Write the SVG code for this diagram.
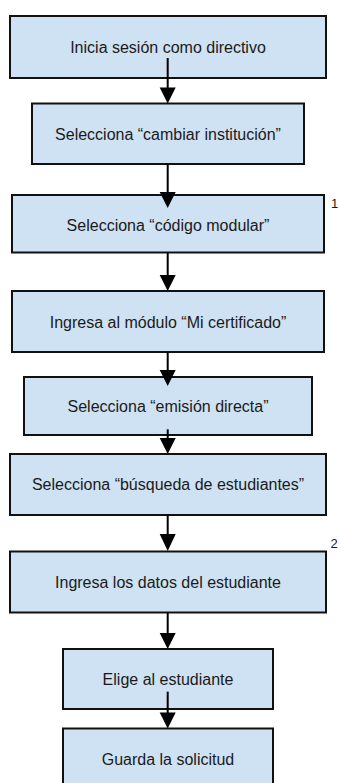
<svg xmlns="http://www.w3.org/2000/svg" width="339" height="783" viewBox="0 0 339 783">
<style>
.box{fill:#cfe2f3;stroke:#111;stroke-width:2}
.lbl{font-family:"Liberation Sans",Arial,sans-serif;font-size:16px;fill:#1a1a1a;text-anchor:middle}
.num{font-family:"Liberation Sans",Arial,sans-serif;font-size:13px;fill:#1a1a1a}
.ln{stroke:#000;stroke-width:2;fill:none}
.hd{fill:#000}
</style>
<rect width="339" height="783" fill="#fff"/>
<g id="n1"><rect class="box" x="10" y="16" width="316" height="62"/><text class="lbl" x="168" y="53">Inicia sesión como directivo</text></g>
<g id="n2"><rect class="box" x="32" y="103.5" width="272" height="60.5"/><text class="lbl" x="168" y="140">Selecciona “cambiar institución”</text></g>
<g id="n3"><rect class="box" x="12" y="195" width="312" height="57.5"/><text class="lbl" x="168" y="230.5">Selecciona “código modular”</text></g>
<g id="n4"><rect class="box" x="12" y="291" width="312" height="61"/><text class="lbl" x="168" y="328">Ingresa al módulo “Mi certificado”</text></g>
<g id="n5"><rect class="box" x="24" y="377" width="288" height="58"/><text class="lbl" x="168" y="412">Selecciona “emisión directa”</text></g>
<g id="n6"><rect class="box" x="10" y="454" width="316" height="61"/><text class="lbl" x="168" y="490">Selecciona “búsqueda de estudiantes”</text></g>
<g id="n7"><rect class="box" x="10" y="551.5" width="316" height="61"/><text class="lbl" x="168" y="588">Ingresa los datos del estudiante</text></g>
<g id="n8"><rect class="box" x="63" y="649" width="210" height="60"/><text class="lbl" x="168" y="685">Elige al estudiante</text></g>
<g id="n9"><rect class="box" x="63" y="728.5" width="210" height="70"/><text class="lbl" x="168" y="765">Guarda la solicitud</text></g>
<g id="labels"><text class="num" x="331" y="208.3">1</text><text class="num" x="330.5" y="547.5">2</text></g>
<g id="connectors">
<line class="ln" x1="167.7" y1="58" x2="167.7" y2="89"/><polygon class="hd" points="159.7,87.5 175.7,87.5 167.7,103.5"/>
<line class="ln" x1="167.7" y1="164" x2="167.7" y2="193"/><polygon class="hd" points="159.7,192 175.7,192 167.7,208"/>
<line class="ln" x1="167.7" y1="252.5" x2="167.7" y2="276"/><polygon class="hd" points="159.7,275 175.7,275 167.7,291"/>
<line class="ln" x1="167.7" y1="352" x2="167.7" y2="371"/><polygon class="hd" points="159.7,370 175.7,370 167.7,386"/>
<line class="ln" x1="167.7" y1="429.3" x2="167.7" y2="439"/><polygon class="hd" points="159.7,438 175.7,438 167.7,454"/>
<line class="ln" x1="167.7" y1="515" x2="167.7" y2="535"/><polygon class="hd" points="159.7,534 175.7,534 167.7,551"/>
<line class="ln" x1="167.7" y1="612.7" x2="167.7" y2="634"/><polygon class="hd" points="159.7,633 175.7,633 167.7,649"/>
<line class="ln" x1="167.7" y1="691.7" x2="167.7" y2="713"/><polygon class="hd" points="159.7,712.5 175.7,712.5 167.7,728.5"/>
</g>
</svg>
